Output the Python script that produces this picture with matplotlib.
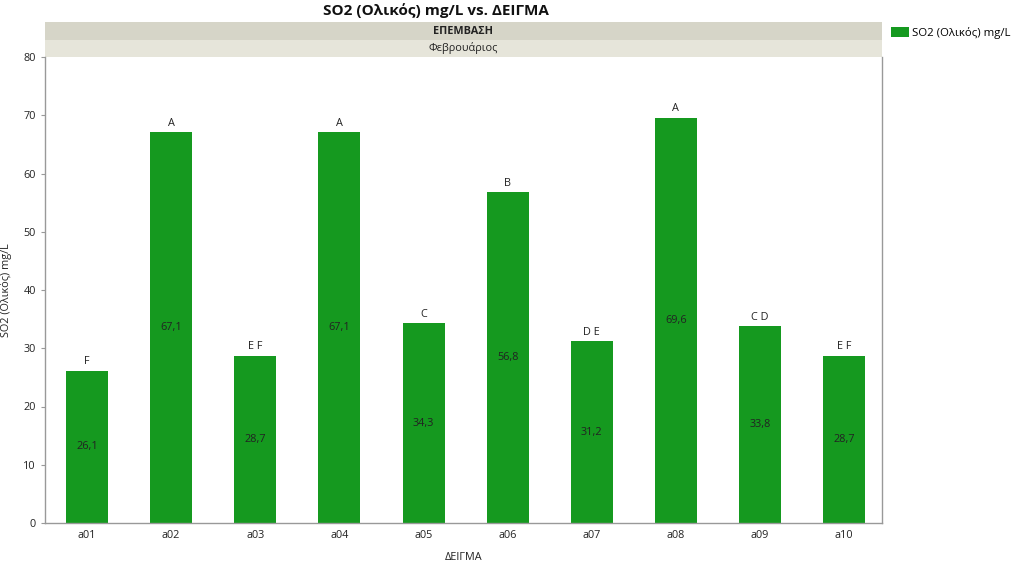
import numpy as np
import matplotlib.pyplot as plt
from matplotlib.patches import Rectangle

plt.rcParams['font.family'] = ['Open Sans', 'DejaVu Sans']

samples = ["a01", "a02", "a03", "a04", "a05", "a06", "a07", "a08", "a09", "a10"]
so2 = [26.1, 67.1, 28.7, 67.1, 34.3, 56.8, 31.2, 69.6, 33.8, 28.7]
letters = ["F", "A", "E F", "A", "C", "B", "D E", "A", "C D", "E F"]

fig = plt.figure(figsize=(10.24, 5.62), dpi=100)
ax = fig.add_axes([45 / 1024, 1 - 523 / 562, 837 / 1024, 466 / 562])

x = np.arange(len(samples))
bars = ax.bar(x, so2, width=0.5, color="#15991f", label="SO2 (Ολικός) mg/L")

for xi, v, lt in zip(x, so2, letters):
    ax.text(xi, v / 2, ("%.1f" % v).replace(".", ","), ha="center", va="center",
            fontsize=7.8, color="#222222")
    ax.text(xi, v + 0.6, lt, ha="center", va="bottom", fontsize=7.8, color="#222222")

ax.set_xlim(-0.5, 9.45)
ax.set_ylim(0, 80)
ax.set_yticks(range(0, 81, 10))
ax.set_xticks(x)
ax.set_xticklabels(samples)
ax.tick_params(labelsize=7.8, colors="#222222", length=3, color="#999999")
ax.tick_params(axis="x", length=0, pad=5)
for s in ["left", "bottom", "right"]:
    ax.spines[s].set_color("#999999")
    ax.spines[s].set_linewidth(1)
ax.spines["top"].set_visible(False)

ax.set_xlabel("ΔΕΙΓΜΑ", fontsize=7.8, color="#222222", labelpad=8)
ax.set_ylabel("SO2 (Ολικός) mg/L", fontsize=7.8, color="#222222", labelpad=8)

# header bands
h = 17 / 466
ax.add_patch(Rectangle((0, 1), 1, h, transform=ax.transAxes, clip_on=False,
                       facecolor="#e6e5da", edgecolor="none"))
ax.add_patch(Rectangle((0, 1 + h), 1, h * 1.05, transform=ax.transAxes, clip_on=False,
                       facecolor="#d6d5c8", edgecolor="none"))
ax.text(0.5, 1 + h / 2, "Φεβρουάριος", transform=ax.transAxes, ha="center",
        va="center", fontsize=7.8, color="#222222")
ax.text(0.5, 1 + h * 1.5, "ΕΠΕΜΒΑΣΗ", transform=ax.transAxes, ha="center",
        va="center", fontsize=7.8, fontweight="bold", color="#222222")

fig.text(436 / 1024, 1 - 11 / 562, "SO2 (Ολικός) mg/L vs. ΔΕΙΓΜΑ",
         ha="center", va="center", fontsize=11, fontweight="bold", color="#111111")

fig.legend(handles=[bars], loc="upper left", bbox_to_anchor=(886 / 1024, 1 - 22 / 562),
           frameon=False, fontsize=8.2, handlelength=1.6, handleheight=1.0,
           handletextpad=0.3, borderaxespad=0)

fig.savefig("out.png", dpi=100)
